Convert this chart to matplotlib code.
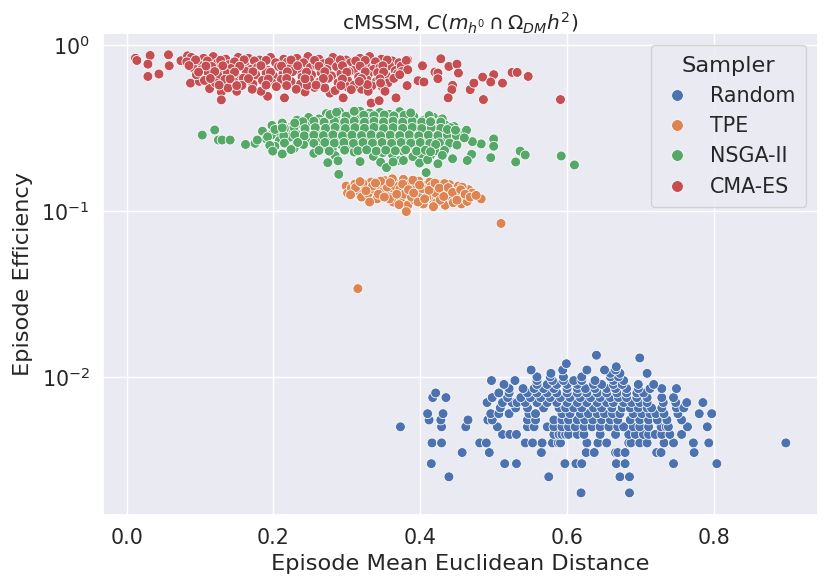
import matplotlib
matplotlib.use("Agg")
import matplotlib.pyplot as plt
import seaborn as sns
import pandas as pd

# --- data ---
samplers = ["Random", "TPE", "NSGA-II", "CMA-ES"]

# Random: efficiency takes discrete levels, x values per level
random_levels = [0.002, 0.0025, 0.003, 0.0035, 0.004, 0.0045, 0.005, 0.0055, 0.006,
                 0.0065, 0.007, 0.0075, 0.008, 0.0085, 0.009, 0.0095, 0.010, 0.0105,
                 0.011, 0.0115, 0.012, 0.013, 0.0135]
random_x_by_level = [
    [0.619, 0.685],
    [0.439, 0.575, 0.672, 0.685],
    [0.415, 0.515, 0.531, 0.597, 0.612, 0.620, 0.667, 0.679, 0.745, 0.804],
    [0.457, 0.494, 0.564, 0.565, 0.626, 0.637, 0.666, 0.669, 0.679, 0.722, 0.728, 0.773],
    [0.416, 0.429, 0.481, 0.490, 0.543, 0.553, 0.566, 0.580, 0.588, 0.591, 0.627, 0.642,
     0.654, 0.684, 0.687, 0.699, 0.709, 0.732, 0.745, 0.772, 0.793, 0.898],
    [0.512, 0.522, 0.531, 0.582, 0.589, 0.593, 0.598, 0.602, 0.614, 0.623, 0.645, 0.666,
     0.684, 0.693, 0.704, 0.711, 0.720, 0.729, 0.740, 0.756],
    [0.373, 0.429, 0.462, 0.505, 0.546, 0.555, 0.573, 0.582, 0.593, 0.602, 0.611, 0.623,
     0.634, 0.645, 0.657, 0.669, 0.677, 0.690, 0.699, 0.711, 0.728, 0.735, 0.738, 0.764, 0.791],
    [0.412, 0.428, 0.465, 0.492, 0.498, 0.546, 0.557, 0.582, 0.593, 0.602, 0.614, 0.624,
     0.635, 0.647, 0.659, 0.669, 0.686, 0.699, 0.711, 0.723, 0.736, 0.756],
    [0.410, 0.431, 0.496, 0.507, 0.521, 0.548, 0.557, 0.593, 0.604, 0.618, 0.629, 0.641,
     0.651, 0.662, 0.672, 0.690, 0.702, 0.713, 0.721, 0.732, 0.751, 0.780, 0.797],
    [0.509, 0.530, 0.546, 0.568, 0.589, 0.598, 0.609, 0.620, 0.636, 0.647, 0.661, 0.675,
     0.686, 0.697, 0.709, 0.715, 0.729, 0.749, 0.759],
    [0.491, 0.512, 0.525, 0.532, 0.543, 0.559, 0.573, 0.586, 0.600, 0.614, 0.627, 0.641,
     0.654, 0.663, 0.677, 0.688, 0.699, 0.709, 0.731, 0.748, 0.763, 0.785],
    [0.417, 0.435, 0.498, 0.519, 0.537, 0.550, 0.564, 0.577, 0.591, 0.604, 0.618, 0.632,
     0.645, 0.659, 0.670, 0.681, 0.695, 0.709, 0.729, 0.745],
    [0.421, 0.507, 0.521, 0.546, 0.559, 0.573, 0.586, 0.600, 0.614, 0.627, 0.641, 0.654,
     0.668, 0.681, 0.695, 0.704],
    [0.521, 0.540, 0.555, 0.568, 0.582, 0.600, 0.614, 0.625, 0.638, 0.654, 0.666, 0.681,
     0.697, 0.713, 0.729, 0.749],
    [0.514, 0.559, 0.573, 0.586, 0.600, 0.614, 0.636, 0.647, 0.663, 0.675, 0.697, 0.718],
    [0.497, 0.529, 0.559, 0.580, 0.595, 0.609, 0.620, 0.638, 0.663, 0.677],
    [0.559, 0.577, 0.595, 0.620, 0.659, 0.670],
    [0.578, 0.659, 0.672, 0.709],
    [0.551, 0.594, 0.627, 0.651, 0.666],
    [0.667],
    [0.599],
    [0.699],
    [0.640],
]

tpe_x = [0.299, 0.301, 0.306, 0.311, 0.316, 0.320, 0.324, 0.329, 0.333, 0.337,
         0.341, 0.345, 0.349, 0.352, 0.356, 0.360, 0.363, 0.367, 0.370, 0.374,
         0.377, 0.380, 0.383, 0.386, 0.389, 0.392, 0.395, 0.398, 0.401, 0.381,
         0.404, 0.407, 0.410, 0.413, 0.416, 0.419, 0.422, 0.425, 0.428, 0.431,
         0.434, 0.437, 0.440, 0.443, 0.446, 0.449, 0.452, 0.456, 0.459, 0.462,
         0.466, 0.471, 0.483, 0.510, 0.315,
         0.312, 0.322, 0.335, 0.343, 0.355, 0.358, 0.365, 0.372, 0.378, 0.385,
         0.388, 0.394, 0.397, 0.403, 0.409, 0.415, 0.421, 0.427, 0.433, 0.439,
         0.445, 0.451, 0.457, 0.464, 0.346, 0.362, 0.390, 0.371, 0.418, 0.331,
         0.305, 0.318, 0.326, 0.339, 0.351, 0.359, 0.368, 0.376, 0.384, 0.391,
         0.399, 0.406, 0.412, 0.420, 0.426, 0.432, 0.438, 0.444, 0.450, 0.455,
         0.461, 0.468, 0.476]
tpe_y = [0.141, 0.128, 0.137, 0.145, 0.132, 0.121, 0.140, 0.127, 0.149, 0.135,
         0.118, 0.143, 0.130, 0.152, 0.124, 0.138, 0.113, 0.147, 0.131, 0.120,
         0.155, 0.140, 0.108, 0.127, 0.146, 0.116, 0.135, 0.151, 0.123, 0.099,
         0.110, 0.142, 0.129, 0.149, 0.118, 0.136, 0.112, 0.145, 0.125, 0.139,
         0.108, 0.130, 0.144, 0.117, 0.135, 0.122, 0.141, 0.110, 0.128, 0.118,
         0.134, 0.128, 0.118, 0.084, 0.034,
         0.138, 0.146, 0.141, 0.126, 0.139, 0.118, 0.142, 0.135, 0.126, 0.144,
         0.121, 0.139, 0.113, 0.136, 0.121, 0.141, 0.128, 0.116, 0.146, 0.124,
         0.112, 0.131, 0.139, 0.114, 0.151, 0.156, 0.153, 0.109, 0.106, 0.113,
         0.125, 0.150, 0.132, 0.147, 0.121, 0.148, 0.126, 0.145, 0.134, 0.128,
         0.143, 0.118, 0.133, 0.147, 0.137, 0.122, 0.138, 0.129, 0.116, 0.134,
         0.126, 0.121, 0.124]

nsga_x = [0.272, 0.290, 0.306, 0.318, 0.331, 0.345, 0.358, 0.372, 0.385,
          0.232, 0.248, 0.262, 0.276, 0.289, 0.301, 0.313, 0.327, 0.340, 0.352,
          0.366, 0.379, 0.393, 0.405, 0.418, 0.430,
          0.198, 0.212, 0.225, 0.238, 0.251, 0.264, 0.278, 0.292, 0.305, 0.318,
          0.330, 0.343, 0.356, 0.369, 0.382, 0.395, 0.408, 0.421, 0.434, 0.446,
          0.185, 0.205, 0.218, 0.231, 0.244, 0.257, 0.270, 0.283, 0.296, 0.309,
          0.322, 0.335, 0.348, 0.361, 0.374, 0.387, 0.400, 0.413, 0.426, 0.439, 0.452,
          0.190, 0.208, 0.222, 0.236, 0.249, 0.262, 0.275, 0.288, 0.301, 0.314,
          0.327, 0.340, 0.353, 0.366, 0.379, 0.392, 0.405, 0.418, 0.431, 0.445,
          0.202, 0.228, 0.241, 0.267, 0.280, 0.293, 0.306, 0.319, 0.332, 0.345,
          0.358, 0.371, 0.384, 0.397, 0.410, 0.423, 0.436,
          0.255, 0.284, 0.310, 0.336, 0.349, 0.362, 0.377, 0.390, 0.401, 0.414, 0.427,
          0.318, 0.346, 0.372, 0.399, 0.410,
          0.285, 0.299, 0.323, 0.337, 0.351, 0.364, 0.378, 0.391, 0.412,
          0.240, 0.255, 0.269, 0.283, 0.297, 0.310, 0.324, 0.337, 0.350, 0.363,
          0.376, 0.389, 0.402, 0.415, 0.428,
          0.215, 0.228, 0.243, 0.257, 0.271, 0.284, 0.298, 0.311, 0.324, 0.337,
          0.350, 0.363, 0.376, 0.389, 0.402, 0.415, 0.428, 0.441,
          0.197, 0.214, 0.229, 0.242, 0.255, 0.268, 0.281, 0.294, 0.307, 0.320,
          0.333, 0.346, 0.359, 0.372, 0.385, 0.398, 0.411, 0.424, 0.437, 0.449,
          0.215, 0.233, 0.255, 0.270, 0.283, 0.296, 0.309, 0.322, 0.335, 0.348,
          0.361, 0.374, 0.387, 0.400, 0.413, 0.426, 0.440,
          0.262, 0.276, 0.297, 0.315, 0.327, 0.340, 0.353, 0.366, 0.380, 0.395,
          0.407, 0.420, 0.433,
          # sparse points
          0.103, 0.120, 0.125, 0.130, 0.141, 0.162, 0.175, 0.178, 0.192, 0.195,
          0.199, 0.212, 0.202, 0.212, 0.229, 0.224, 0.274, 0.288, 0.289, 0.277,
          0.286, 0.310, 0.354, 0.387, 0.414, 0.437, 0.448, 0.463, 0.500, 0.500,
          0.483, 0.471, 0.460, 0.470, 0.464, 0.444, 0.430, 0.424, 0.496, 0.536,
          0.543, 0.530, 0.592, 0.610, 0.408, 0.377, 0.363, 0.450, 0.421, 0.414]
nsga_y = [0.385, 0.395, 0.380, 0.398, 0.388, 0.392, 0.381, 0.396, 0.385,
          0.352, 0.365, 0.358, 0.370, 0.352, 0.366, 0.356, 0.372, 0.360, 0.351,
          0.368, 0.355, 0.362, 0.352, 0.366, 0.358,
          0.327, 0.338, 0.322, 0.335, 0.325, 0.340, 0.328, 0.336, 0.321, 0.333,
          0.326, 0.339, 0.322, 0.334, 0.327, 0.340, 0.324, 0.336, 0.329, 0.322,
          0.302, 0.296, 0.309, 0.292, 0.305, 0.298, 0.310, 0.293, 0.303, 0.296,
          0.308, 0.291, 0.301, 0.310, 0.294, 0.305, 0.298, 0.309, 0.292, 0.303, 0.297,
          0.272, 0.265, 0.278, 0.262, 0.274, 0.268, 0.280, 0.263, 0.271, 0.277,
          0.264, 0.272, 0.279, 0.261, 0.270, 0.276, 0.265, 0.273, 0.262, 0.270,
          0.245, 0.238, 0.251, 0.243, 0.236, 0.249, 0.241, 0.253, 0.237, 0.246,
          0.252, 0.239, 0.247, 0.241, 0.253, 0.238, 0.245,
          0.222, 0.215, 0.226, 0.213, 0.224, 0.218, 0.228, 0.212, 0.221, 0.216, 0.227,
          0.198, 0.196, 0.201, 0.194, 0.203,
          0.375, 0.372, 0.377, 0.374, 0.378, 0.373, 0.376, 0.371, 0.375,
          0.344, 0.347, 0.342, 0.346, 0.343, 0.347, 0.342, 0.346, 0.343, 0.347,
          0.342, 0.346, 0.343, 0.346, 0.343,
          0.314, 0.318, 0.313, 0.317, 0.314, 0.318, 0.313, 0.317, 0.314, 0.318,
          0.313, 0.317, 0.314, 0.318, 0.313, 0.317, 0.314, 0.317,
          0.286, 0.283, 0.287, 0.283, 0.286, 0.284, 0.287, 0.283, 0.286, 0.284,
          0.287, 0.283, 0.286, 0.284, 0.287, 0.283, 0.286, 0.284, 0.287, 0.284,
          0.256, 0.258, 0.255, 0.258, 0.256, 0.258, 0.255, 0.258, 0.256, 0.258,
          0.255, 0.258, 0.256, 0.258, 0.255, 0.257, 0.256,
          0.231, 0.229, 0.232, 0.230, 0.233, 0.229, 0.232, 0.230, 0.233, 0.229,
          0.232, 0.230, 0.231,
          0.286, 0.307, 0.267, 0.267, 0.267, 0.251, 0.255, 0.267, 0.279, 0.248,
          0.229, 0.220, 0.309, 0.316, 0.338, 0.234, 0.195, 0.200, 0.166, 0.380,
          0.393, 0.398, 0.182, 0.389, 0.344, 0.309, 0.306, 0.306, 0.271, 0.245,
          0.253, 0.261, 0.275, 0.219, 0.201, 0.206, 0.216, 0.192, 0.209, 0.229,
          0.217, 0.197, 0.214, 0.189, 0.170, 0.201, 0.197, 0.249, 0.251, 0.227]

cma_x = [0.012, 0.014, 0.032, 0.029, 0.029, 0.044, 0.057, 0.058, 0.074, 0.083,
         0.129, 0.129, 0.113, 0.087, 0.099, 0.192, 0.215, 0.150, 0.183, 0.243,
         0.256, 0.277,
         0.088, 0.105, 0.118, 0.135, 0.152, 0.166, 0.181, 0.196, 0.214, 0.232,
         0.247, 0.262, 0.281, 0.299, 0.318, 0.331, 0.347, 0.362,
         0.082, 0.097, 0.110, 0.124, 0.139, 0.147, 0.161, 0.174, 0.188, 0.203,
         0.219, 0.228, 0.241, 0.255, 0.268, 0.276, 0.290, 0.305, 0.312, 0.326,
         0.339, 0.352, 0.371, 0.383,
         0.090, 0.102, 0.116, 0.130, 0.142, 0.156, 0.169, 0.178, 0.193, 0.207,
         0.222, 0.236, 0.250, 0.259, 0.273, 0.286, 0.297, 0.309, 0.321, 0.336,
         0.345, 0.358, 0.366, 0.378,
         0.095, 0.111, 0.125, 0.137, 0.150, 0.163, 0.176, 0.190, 0.200, 0.213,
         0.226, 0.239, 0.252, 0.265, 0.279, 0.292, 0.303, 0.316, 0.329, 0.342,
         0.354, 0.369,
         0.106, 0.121, 0.134, 0.146, 0.159, 0.172, 0.185, 0.198, 0.211, 0.224,
         0.237, 0.249, 0.263, 0.275, 0.288, 0.301, 0.314, 0.327, 0.340, 0.356,
         0.138, 0.157, 0.171, 0.204, 0.231, 0.246, 0.270, 0.284, 0.300, 0.320, 0.348,
         0.094, 0.128, 0.160, 0.190, 0.224, 0.256, 0.291, 0.325, 0.355,
         0.085, 0.108, 0.131, 0.154, 0.183, 0.211, 0.233, 0.262, 0.294, 0.318,
         0.349, 0.374,
         0.098, 0.120, 0.147, 0.172, 0.196, 0.219, 0.245, 0.270, 0.300, 0.325,
         0.350, 0.375,
         0.114, 0.141, 0.166, 0.193, 0.218, 0.243, 0.268, 0.294, 0.320, 0.345, 0.364,
         0.126, 0.150, 0.190, 0.218, 0.258, 0.292, 0.310, 0.334,
         # right side
         0.381, 0.383, 0.372, 0.382, 0.367, 0.333, 0.344, 0.352, 0.329, 0.295,
         0.306, 0.346, 0.328, 0.317, 0.403, 0.397, 0.405, 0.428, 0.439, 0.450,
         0.420, 0.424, 0.452, 0.424, 0.444, 0.443, 0.438, 0.468, 0.473, 0.485,
         0.500, 0.496, 0.512, 0.486, 0.525, 0.532, 0.547, 0.591]
cma_y = [0.831, 0.805, 0.863, 0.765, 0.645, 0.667, 0.871, 0.748, 0.802, 0.859,
         0.520, 0.466, 0.545, 0.588, 0.602, 0.490, 0.479, 0.525, 0.525, 0.520,
         0.554, 0.512,
         0.840, 0.830, 0.850, 0.820, 0.840, 0.830, 0.810, 0.840, 0.820, 0.830,
         0.850, 0.820, 0.840, 0.810, 0.830, 0.850, 0.820, 0.800,
         0.790, 0.770, 0.800, 0.780, 0.760, 0.790, 0.770, 0.800, 0.760, 0.780,
         0.790, 0.760, 0.780, 0.800, 0.770, 0.790, 0.760, 0.780, 0.800, 0.770,
         0.790, 0.760, 0.780, 0.810,
         0.730, 0.710, 0.740, 0.700, 0.720, 0.750, 0.710, 0.730, 0.700, 0.740,
         0.720, 0.700, 0.730, 0.750, 0.710, 0.740, 0.720, 0.700, 0.740, 0.710,
         0.730, 0.750, 0.700, 0.720,
         0.660, 0.680, 0.650, 0.670, 0.640, 0.690, 0.660, 0.680, 0.650, 0.670,
         0.690, 0.640, 0.660, 0.680, 0.650, 0.670, 0.690, 0.640, 0.660, 0.680,
         0.650, 0.670,
         0.610, 0.590, 0.620, 0.600, 0.630, 0.580, 0.610, 0.590, 0.620, 0.600,
         0.580, 0.620, 0.600, 0.630, 0.590, 0.610, 0.580, 0.620, 0.600, 0.590,
         0.550, 0.570, 0.540, 0.560, 0.540, 0.570, 0.550, 0.530, 0.560, 0.540, 0.560,
         0.812, 0.808, 0.812, 0.806, 0.810, 0.806, 0.812, 0.806, 0.810,
         0.750, 0.745, 0.748, 0.744, 0.749, 0.745, 0.748, 0.744, 0.749, 0.745,
         0.748, 0.744,
         0.685, 0.690, 0.685, 0.688, 0.684, 0.688, 0.685, 0.689, 0.685, 0.688,
         0.686, 0.690,
         0.627, 0.623, 0.626, 0.622, 0.627, 0.624, 0.627, 0.623, 0.626, 0.624, 0.628,
         0.572, 0.568, 0.572, 0.568, 0.572, 0.568, 0.572, 0.566,
         0.805, 0.708, 0.661, 0.568, 0.479, 0.446, 0.461, 0.525, 0.525, 0.479,
         0.537, 0.588, 0.576, 0.602, 0.748, 0.608, 0.597, 0.824, 0.741, 0.765,
         0.685, 0.676, 0.676, 0.625, 0.570, 0.537, 0.479, 0.537, 0.588, 0.639,
         0.661, 0.597, 0.588, 0.468, 0.682, 0.682, 0.645, 0.468]

# flatten random levels
random_x = [x for xs in random_x_by_level for x in xs]
random_y = [lvl for lvl, xs in zip(random_levels, random_x_by_level) for _ in xs]

df = pd.concat([
    pd.DataFrame({"x": random_x, "y": random_y, "Sampler": "Random"}),
    pd.DataFrame({"x": tpe_x, "y": tpe_y, "Sampler": "TPE"}),
    pd.DataFrame({"x": nsga_x, "y": nsga_y, "Sampler": "NSGA-II"}),
    pd.DataFrame({"x": cma_x, "y": cma_y, "Sampler": "CMA-ES"}),
], ignore_index=True)

sns.set_theme(style="darkgrid", font_scale=1.35)

fig, ax = plt.subplots(figsize=(8.3, 5.87), dpi=100)
fig.subplots_adjust(left=0.124, right=0.986, top=0.944, bottom=0.123)

sns.scatterplot(data=df, x="x", y="y", hue="Sampler", hue_order=samplers,
                s=50, ax=ax)
ax.set_yscale("log")
ax.set_xlabel("Episode Mean Euclidean Distance")
ax.set_ylabel("Episode Efficiency", labelpad=6)
ax.set_title(r"cMSSM, $C(m_{h^0} \cap \Omega_{DM} h^2)$", fontsize=14.5, pad=1.5)
ax.legend(title="Sampler", loc="upper right", markerscale=1.2,
          borderaxespad=0.6, handlelength=1.6, borderpad=0.5)

fig.savefig("out.png", dpi=100)
